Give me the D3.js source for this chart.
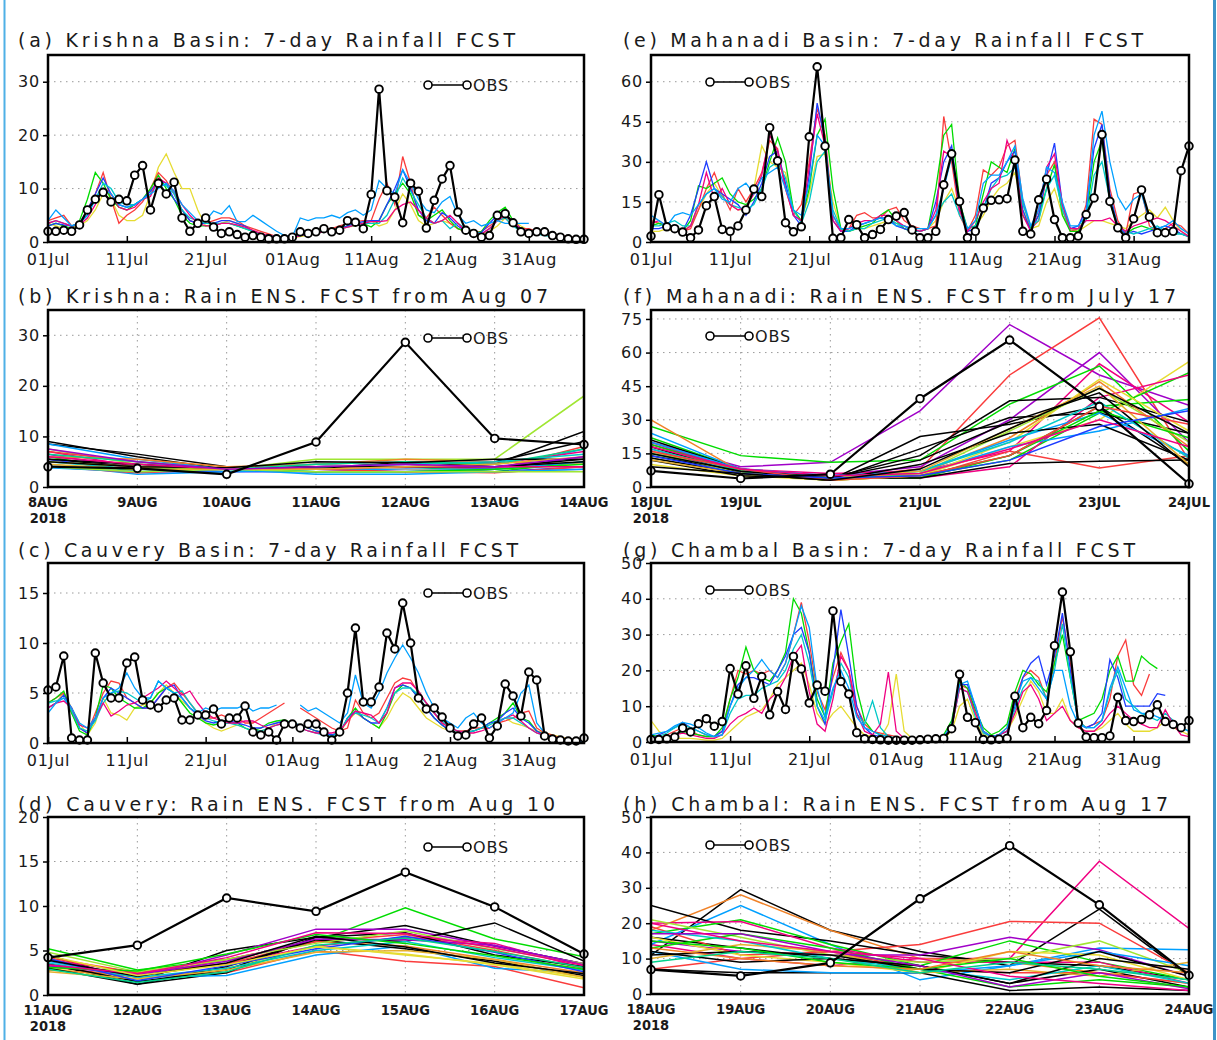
<!DOCTYPE html>
<html>
<head>
<meta charset="utf-8">
<script src="https://cdn.jsdelivr.net/npm/d3@7"></script>
<style>
  body { margin: 0; background: #fff; }
  .ttl { font-family: "DejaVu Sans", sans-serif; font-size: 19px; fill: #1a1a1a; }
  .tk { font-family: "DejaVu Sans", sans-serif; font-size: 16px; fill: #1a1a1a; letter-spacing: 0.8px; }
  .ens { font-family: "Liberation Sans Narrow", "DejaVu Sans Condensed", sans-serif; font-weight: bold; font-size: 14.5px; fill: #1a1a1a; }
</style>
</head>
<body>
<script>

var width = 1217, height = 1040;

// daily series 01Jul - 07Sep 2018
var tsFirstDay = "2018-07-01", tsLastDay = "2018-09-07";
var tsTickDays = ["2018-07-01", "2018-07-11", "2018-07-21", "2018-08-01", "2018-08-11", "2018-08-21", "2018-08-31"];

var krishnaObs = [2, 2, 2.2, 2, 3.2, 6, 8, 9.3, 7.5, 8,
  7.7, 12.5, 14.3, 6, 11, 9, 11.2, 4.5, 2, 3.5,
  4.5, 2.8, 1.6, 1.9, 1.4, 0.9, 1.2, 0.9, 0.6, 0.6,
  0.6, 0.9, 1.9, 1.6, 1.9, 2.5, 1.9, 2.2, 4, 3.7,
  2.5, 8.9, 28.6, 9.6, 8.4, 3.6, 11, 9.5, 2.6, 7.8,
  11.8, 14.3, 5.6, 2.2, 1.6, 0.9, 1.2, 5, 5.3, 3.6,
  1.9, 1.6, 1.9, 1.9, 1.2, 0.9, 0.6, 0.5, 0.5];

// forecast lines: yellow, red, green, blue, cyan, magenta, light blue
var krishnaFcst = [
  [3.5, 3, 2.5, 2.5, 3, 4, 6, 9, 8, 5, 4, 4, 5, 9, 14, 16.5, 13, 10, 10, 6, 3, 3, 3.5, 4, 3.5, 3, 2, 1.5, 1.2, 1,
   0.8, 0.8, 1, 1.3, 1.6, 2, 2.2, 2.4, 2.8, 3, 3.5, 4, 3, 3.5, 6, 9, 7, 4, 3, 3.5, 4, 3.5, 2.5, 2, 1.5, 1.5, 2, 3, 4.5, 4,
   3, 2.2, 1.8, 1.5, 1.2, 1, 0.8, 0.6, 0.5],
  [4, 4.5, 5, 3, 3.5, 6, 9, 13, 8, 3.5, 5, 6, 7.5, 10, 13, 11.5, 9, 6, 4, 3.5, 3.5, 4, 4.5, 4.5, 4, 3, 2.5, 2, 1.5, 1,
   0.8, 1, 1.5, 2, 2.2, 2.5, 2.5, 3, 3.5, 3.8, 4, 4, 8, 11, 7, 16, 11, 5, 4.5, 6.5, 5, 3.5, 2.5, 2, 1.8, 2, 3, 4, 4.5, 3,
   2.5, 2.5, 2, 1.8, 1.5, 1.2, 1, 0.8, 0.6],
  [3, 3.5, 3, 2.5, 4, 8, 13, 11, 8, 6.5, 6, 7, 8, 10, 12.5, 10, 8, 5, 3.5, 3, 3, 3.2, 3.5, 3.5, 3, 2.5, 2, 1.5, 1.2, 1,
   0.8, 1, 1.2, 1.5, 1.8, 2, 2.2, 2.5, 3, 3.5, 3.5, 2.8, 4, 7, 9, 11, 9, 5, 4, 5, 6, 4, 2.5, 2, 1.5, 2, 4, 5.5, 6.5, 4,
   2.5, 2, 2, 1.5, 1.2, 1, 0.8, 0.6, 0.5],
  [3, 3.5, 3.2, 3, 3.5, 6, 9, 12, 9, 7, 6.5, 7, 8, 9.5, 11.5, 11, 8, 6, 4, 3.5, 3.5, 3.5, 4, 4, 3.5, 3, 2, 1.5, 1.2, 1,
   0.8, 0.9, 1.2, 1.5, 1.8, 2, 2.2, 2.5, 3, 3.5, 3.8, 4, 4, 7, 10, 13.5, 10, 6, 4, 3.5, 5.5, 4.5, 3, 2, 1.5, 1.8, 3.5, 5, 5, 3.5,
   2.5, 2, 1.8, 1.5, 1.2, 1, 0.8, 0.6, 0.5],
  [3.5, 4, 3.5, 3, 3.5, 5, 8, 11, 10, 7.5, 7, 7, 8, 9, 11, 10.5, 9, 6, 4.5, 4, 3.5, 3.5, 3.5, 3.5, 3, 2.5, 2, 1.5, 1.2, 1,
   0.8, 1, 1.2, 1.5, 1.8, 2, 2.2, 2.5, 2.8, 3.2, 3.5, 3.5, 3.5, 5, 8, 12, 9.5, 7, 4.5, 3.5, 4, 2.5, 3.5, 2.5, 2, 1.5, 2.5, 4, 4.5, 3,
   2, 1.8, 1.5, 1.2, 1, 0.8, 0.6, 0.5, 0.5],
  [3.5, 4, 3.5, 3, 3.2, 4.5, 7, 10, 9, 6.5, 6, 6.5, 8, 8.5, 12, 11, 9.5, 7, 5, 3.5, 3, 3, 3.5, 3.5, 3.2, 2.8, 2.2, 1.6, 1.2, 1,
   0.8, 0.8, 1.2, 1.5, 1.7, 1.9, 2.1, 2.4, 2.8, 3.2, 3.5, 3.8, 3.8, 4, 6, 7, 7.5, 6, 4.5, 3.5, 4, 5, 3.5, 2, 1.5, 1.5, 2.5, 4, 5, 4,
   2.5, 2, 2, 1.5, 1.2, 1, 0.8, 0.6, 0.5],
  [4, 6, 4.5, 3, 3.5, 5, 8, 10, 9, 7, 6.5, 7, 8, 9, 10, 11, 9.5, 7, 5.5, 4, 4, 5.8, 5.2, 6.8, 3.8, 3.8, 5, 4, 3, 2,
   1.2, 1, 4.5, 4, 4.5, 4.5, 5, 4.5, 5.5, 6, 5, 6, 11.5, 10, 9, 13.5, 11, 8, 6, 5.5, 7.5, 8.5, 5, 3.5, 4, 3, 3.5, 4, 3.5, 3.5,
   3.5, 3.5, null, null, null, null, null, null, null]
];

var mahanadiObs = [2.2, 17.7, 5.7, 5, 3.7, 1.6, 4.5, 13.6, 17, 4.7,
  4, 6, 12, 19.8, 17, 42.8, 30.4, 7.2, 3.8, 5.7,
  39.4, 65.6, 35.9, 1.4, 1.6, 8.4, 6.5, 1.6, 2.8, 4.7,
  8.4, 9.7, 11, 4.5, 1.6, 1.6, 4, 21.4, 33, 15.2,
  1.6, 4, 12.7, 15.6, 15.8, 16.2, 30.7, 4, 3, 15.8,
  23.5, 8.4, 1.6, 1.6, 2.2, 10.3, 16.5, 40.2, 15.2, 5.3,
  1.6, 8.7, 19.5, 9.4, 3.5, 3.5, 4, 26.7, 35.9];

var mahanadiFcst = [
  [4, 4, 5, 4, 4, 6, 12, 18, 22, 17, 14, 12, 12, 20, 36, 30, 28, 26, 12, 8, 18, 32, 33, 15, 5, 4, 5, 5, 6, 7,
   8, 7, 5, 4, 4, 5, 8, 15, 20, 12, 5, 6, 10, 16, 20, 22, 26, 12, 5, 6, 15, 20, 10, 5, 4, 6, 8, 8, 7, 6,
   5, 8, 10, 12, 9, 13, 8, 4, 2],
  [8, 7, 6, 5, 4, 5, 12, 20, 26, 18, 12, 20, 15, 20, 26, 38, 35, 20, 10, 14, 30, 50, 40, 10, 4, 5, 10, 11, 9, 9,
   12, 13, 8, 6, 5, 5, 6, 47, 30, 10, 4, 10, 27, 25, 28, 36, 38, 15, 5, 8, 25, 30, 12, 4, 5, 14, 46, 44, 20, 8,
   3, 18, 19, 6, 4, 5, 7, 6, 3],
  [6, 7, 6, 6, 4, 8, 21, 20, 22, 24, 18, 15, 14, 16, 20, 30, 39, 30, 12, 8, 20, 40, 46, 20, 5, 4, 5, 6, 7, 10,
   12, 8, 5, 4, 4, 5, 20, 40, 44, 15, 5, 6, 18, 30, 28, 26, 35, 10, 5, 10, 20, 29, 10, 4, 4, 10, 30, 38, 15, 5,
   3, 5, 6, 5, 4, 3, 4, 3, 2],
  [5, 5, 6, 5, 4, 10, 20, 30, 20, 18, 16, 14, 10, 15, 22, 32, 34, 22, 10, 6, 25, 52, 38, 8, 4, 4, 6, 7, 8, 9,
   9, 6, 5, 4, 4, 5, 15, 30, 36, 12, 4, 5, 12, 22, 24, 30, 34, 12, 4, 10, 25, 37, 14, 5, 6, 12, 35, 44, 18, 6,
   3, 4, 3, 4, 5, 6, 5, 3, 2],
  [6, 6, 7, 8, 6, 6, 14, 18, 20, 17, 14, 13, 12, 14, 20, 28, 30, 24, 12, 7, 15, 30, 34, 12, 5, 4, 5, 5, 7, 8,
   9, 7, 6, 4, 4, 5, 10, 15, 18, 10, 5, 6, 12, 20, 24, 25, 28, 14, 6, 8, 20, 25, 12, 5, 5, 8, 25, 30, 16, 6,
   4, 3, 4, 5, 6, 4, 3, 3, 2],
  [7, 8, 6, 5, 4, 6, 14, 26, 16, 20, 14, 12, 13, 18, 25, 40, 34, 20, 10, 8, 28, 48, 36, 8, 4, 5, 7, 8, 8, 10,
   10, 8, 6, 5, 4, 5, 12, 34, 32, 12, 4, 8, 15, 20, 22, 38, 30, 10, 4, 12, 28, 33, 14, 5, 5, 8, 8, 8, 9, 6,
   4, 6, 7, 8, 9, 8, 6, 4, 2],
  [10, 8, 6, 10, 11, 10, 14, 18, 20, 16, 15, 20, 22, 18, 24, 26, 28, 20, 12, 10, 22, 40, 36, 10, 5, 5, 6, 7, 8, 9,
   8, 6, 6, 5, 5, 5, 10, 20, 32, 14, 5, 8, 22, 25, 25, 30, 36, 16, 6, 12, 28, 26, 15, 6, 6, 10, 40, 49, 30, 17,
   12, 16, 18, 8, 5, 6, 8, 5, 3]
];

var cauveryObs = [5.3, 5.6, 8.7, 0.5, 0.3, 0.3, 9, 6, 4.5, 4.5,
  8, 8.6, 4.3, 3.8, 3.5, 4.3, 4.5, 2.3, 2.3, 2.8,
  2.8, 3.4, 1.9, 2.5, 2.5, 3.7, 1.1, 0.8, 1.1, 0.3,
  1.9, 1.9, 1.5, 1.9, 1.9, 1.1, 0.3, 1.1, 5, 11.5,
  4.1, 4.1, 5.6, 11, 9.4, 14, 10, 4.5, 3.4, 3.5,
  2.6, 1.5, 0.7, 0.8, 1.9, 2.5, 0.5, 1.7, 5.9, 4.7,
  2.7, 7.1, 6.3, 0.7, 0.4, 0.3, 0.2, 0.2, 0.5];

var cauveryFcst = [
  [3.5, 4, 5, 3.5, 2, 0.8, 2, 4.5, 3, 2.8, 2.3, 3.5, 3.8, 4, 5, 5.8, 5, 4.2, 3.5, 2.8, 2, 1.5, 1.2, 1.5, 1.8, 1.5, 1.2, 1.2, 1.5, 2,
   2.2, 2, 1.8, 1.5, 1.2, 1, 0.8, 1, 2.2, 3, 2.5, 2, 1.5, 2.5, 4, 5, 4.5, 3.5, 2.5, 2, 1.5, 1.2, 1, 1, 1.2, 1.5, 1.8, 2.2, 2.5, 2,
   1.8, 1.5, 1.2, 1, 0.8, 0.6, 0.4, 0.3, 0.2],
  [4, 4.5, 5, 3, 1.5, 1, 3, 5, 6.2, 6, 4.5, 4, 3.5, 3.5, 4.5, 5.5, 6, 5, 4, 3, 2.5, 2.5, 2.8, 2.5, 2.5, 2, 2, 2.5, 3, 3.5,
   4, null, 3.5, 3, 2.5, 2, 1.5, 1.2, 1.5, 4.3, 3, 2.5, 3, 4.5, 6, 6.5, 6.3, 5, 4, 3, 2, 1.5, 1.2, 1.2, 1.5, 1.5, 1.5, 2, 2.2, 2.5,
   3, 3.2, 1.5, 1, 0.8, 0.5, 0.4, 0.3, 0.3],
  [4, 4.5, 5.2, 3, 1.2, 0.8, 2.5, 5.8, 5.5, 4.5, 4, 3.5, 3.5, 4, 5, 5.5, 5, 4, 3, 2.5, 2, 1.8, 2, 2, 2, 1.5, 1.2, 1.5, 2, 2.2,
   2.3, 2, 1.8, 1.5, 1.2, 1, 0.8, 1, 2.5, 3.5, 2.5, 2, 1.5, 3, 5, 5.8, 5.5, 4.5, 3.5, 2.5, 1.8, 1.2, 1, 1, 1.2, 1.5, 2, 2.5, 3, 4,
   2.5, 2.2, 1.2, 0.8, 0.5, 0.4, 0.3, 0.2, 0.2],
  [3.5, 4, 4.8, 3.5, 1.5, 1, 2.5, 4.5, 5.5, 5, 4.5, 4, 3.5, 3.5, 4.5, 5.5, 5.8, 4.5, 3.5, 2.8, 2.2, 2, 2.2, 2.2, 2, 1.8, 1.5, 1.5, 1.8, 2,
   2.2, 2, 1.8, 1.5, 1.2, 1, 0.8, 1, 2.5, 3.2, 2.5, 2, 2, 3.5, 5.5, 5.8, 5.5, 4.5, 3.5, 2.5, 1.8, 1.2, 1, 1, 1.2, 1.5, 2, 2.2, 3, 3.5,
   2.5, 2, 1.2, 0.8, 0.5, 0.4, 0.3, 0.2, 0.2],
  [4, 4.2, 4.5, 3.2, 1.5, 1.2, 2.2, 4, 5, 5.2, 5, 4.5, 4, 4.5, 6.2, 5.5, 5, 5.2, 4, 3, 2.5, 2.2, 2, 2, 1.8, 1.5, 1.2, 1.2, 1.5, 1.8,
   2, 2, 1.5, 1.2, 1, 0.8, 0.7, 1, 2.5, 3, 2.8, 2.5, 2, 3.5, 5, 5.5, 5.5, 4.8, 4, 3, 2.2, 1.5, 1.2, 1, 1.2, 1.5, 1.8, 2.2, 2.5, 2.5,
   2, 1.5, 1, 0.7, 0.5, 0.4, 0.3, 0.2, 0.2],
  [3.5, 4, 4.2, 3.5, 1.8, 1.5, 2.5, 4, 2.7, 3.2, 3.8, 4, 4.5, 5, 5.5, 6.2, 5.5, 4.8, 5.2, 4, 3, 2.5, 2.2, 2, 2, 2.2, 2.2, 1.8, 1.5, 1.8,
   2, 2, 1.5, 1.2, 1, 1, 1, 1.2, 2.2, 3.2, 3, 2.8, 2, 3, 5.5, 6, 6, 5.2, 4, 3, 2, 1.5, 1.2, 1, 1, 1.2, 1.5, 2, 2.5, 2.8,
   2.2, 1.5, 1, 0.8, 0.5, 0.4, 0.3, 0.2, 0.2],
  [3, 4, 4.5, 3.5, 2, 1.5, 2.5, 4.5, 5, 5.5, 7, 5.5, 4.5, 4.5, 6.2, 5.5, 5, 4.5, 3.5, 3, 3.5, 3.2, 3.5, 3.5, 3.5, 3.8, 3.2, 3.5, 3.5, 3.8,
   null, null, 3.8, 3.2, 3.5, 3, 2.5, 2, 3, 6.8, 4, 3.5, 5, 7, 8.5, 9.8, 8.5, 7, 5, 3.5, 2.5, 2, 1.5, 2.5, 3, 2, 1.5, 2, 2.5, 3,
   5, 5.8, 2, 1, 0.6, 0.4, 0.3, 0.2, 0.2]
];

var chambalObs = [0.7, 0.7, 0.9, 1.4, 3.9, 2.8, 5.1, 6.5, 4.4, 5.7,
  20.5, 13.4, 21.3, 12.2, 18.3, 7.6, 14.1, 9.1, 23.9, 20.4,
  10.9, 15.9, 14.2, 36.6, 16.9, 13.4, 2.6, 0.9, 0.7, 0.6,
  0.5, 0.5, 0.5, 0.5, 0.6, 0.8, 0.9, 1, 3.7, 18.9,
  6.9, 5.4, 0.7, 0.6, 0.8, 1, 12.8, 4, 6.9, 5.1,
  8.8, 26.9, 41.9, 25.2, 5.3, 1.4, 1.2, 1.2, 1.7, 12.5,
  6, 5.7, 6.3, 7.6, 10.4, 5.7, 4.9, 4, 6];

var chambalFcst = [
  [6, 3, 1.5, 1, 1, 1, 0.8, 0.5, 0.5, 1, 3, 5, 7, 8, 9, 12, 16, 18, 20, 22, 16, 8, 5, 8, 10, 7, 4, 2, 1.5, 1,
   5, 19, 3, 1, 0.6, 0.5, 0.5, 1, 3, 10, 12, 6, 2, 1.5, 2, 3, 7, 12, 17, 14, 8, 8, 12, 6, 4, 3, 3, 4, 6, 8,
   5, 3, 3, 3, 4, 6, 4, 3, 2],
  [1.5, 1, 2, 3, 4, 3, 2, 1.5, 1.5, 3, 12, 20, 19, 20, 19, 20, 18, 22, 30, 39, 28, 14, 9, 18, 25, 20, 10, 5, 3, 2.5,
   2, 1.5, 1, 0.8, 0.6, 0.5, 0.5, 1.5, 5, 16, 15, 8, 3, 1.5, 2, 4, 12, 18, 20, 18, 12, 22, 35, 22, 6, 4, 5, 6, 12, 24,
   28.5, 16, 13, 19, null, null, null, null, null],
  [2, 1.5, 1, 2, 3, 2.5, 2, 1.5, 1.5, 4, 12, 18, 26.5, 20, 18, 17, 20, 25, 40, 36, 25, 12, 7, 22, 28, 33, 15, 6, 3, 2,
   1.5, 1, 0.8, 0.6, 0.5, 0.5, 0.8, 2, 6, 17, 15, 9, 4, 2, 3, 5, 14, 20, 19, 16, 14, 22, 30, 18, 6, 7, 8, 12, 20, 24,
   17, 17, 24, 22, 20.5, null, null, null, null],
  [1, 2, 3, 4, 5.5, 4, 3, 2, 1.5, 3, 10, 16, 18, 18, 17, 16, 20, 24, 30, 32, 25, 10, 5, 20, 37, 24, 10, 4, 2, 1.5,
   1, 0.8, 0.6, 0.5, 0.5, 0.5, 0.6, 1.5, 4, 16, 16, 10, 3, 1.5, 2, 3, 10, 18, 22, 24, 16, 24, 36, 20, 5, 4, 5, 8, 23, 18,
   10, 10, 10, 10, 13.5, 13, null, null, null],
  [1, 1.5, 2.5, 4, 5, 4, 3, 2, 1.5, 2, 8, 12, 13, 13, 15, 16, 17, 20, 26, 30, 22, 10, 6, 14, 22, 18, 8, 5, 11.5, 4,
   1.5, 1, 0.8, 0.6, 0.5, 0.5, 0.5, 1.5, 4, 15, 14, 7, 2.5, 1.5, 2, 3, 9, 15, 18, 17, 12, 20, 33, 18, 6, 4, 4, 6, 14, 20,
   12, 10, 8, 7, 6, 8, 6, 4, 3],
  [1, 1, 1.5, 2, 2.5, 2, 1.5, 1, 1, 2, 5, 7, 8, 9.5, 8, 12, 14, 18, 24, 27, 14, 5, 3, 12, 24, 20, 8, 3, 2, 5,
   19.5, 3, 1, 0.6, 0.5, 0.5, 0.5, 1.5, 4, 15, 14, 8, 3, 1.5, 2, 3, 8, 14, 16, 12, 6, 8, 10, 6, 4, 3, 3, 5, 8, 10,
   8, 6, 5, 4, 4, 9, 5, 2, 1.5],
  [2, 2.5, 3, 4.5, 5.5, 5, 4, 2.5, 1.5, 2, 10, 15, 18, 20, 23, 20, 18, 22, 30, 38, 32, 15, 7, 15, 20, 15, 7, 4, 3, 2,
   1.5, 1, 0.8, 0.6, 0.5, 0.5, 0.5, 1.5, 5, 16, 17, 10, 3, 1.5, 2, 4, 11, 17, 18, 15, 12, 20, 20, 10, 5, 4, 4, 6, 15, 21,
   15, 9, 8, 8, 7, 6, 5, 4, 3]
];

// ensemble forecasts (7 days each)
var krishnaEnsDays = ["2018-08-08", "2018-08-09", "2018-08-10", "2018-08-11", "2018-08-12", "2018-08-13", "2018-08-14"];
var krishnaEnsObs = [4, 3.7, 2.5, 8.9, 28.6, 9.6, 8.4];
var krishnaEns = [
  [9, 6, 3.5, 3.5, 4, 4.5, 11], [8.5, 6.5, 4, 4, 4.5, 5, 9], [8.5, 5.5, 3.5, 3, 3, 3.5, 7.5],
  [7.5, 4.5, 3.5, 5.5, 5.5, 5.5, 18], [7, 4, 3.5, 4.5, 5, 4.5, 7], [7, 5, 3.5, 3.5, 4, 3.5, 8],
  [6.5, 3.5, 3.5, 4, 4.5, 3.5, 6], [6, 3, 3.5, 4, 4, 3, 5], [6, 5.5, 4, 4.5, 5.5, 5, 4.5],
  [5.5, 4, 3.5, 3.5, 5, 4, 5.5], [5.5, 3, 3, 3, 3.5, 3, 4], [5, 3.5, 3.5, 4, 4.5, 5, 6.5],
  [5, 4, 3.5, 3.5, 4, 4, 4], [4.5, 2.5, 3, 3.5, 3.5, 3.5, 5], [4.5, 3, 3.5, 4.5, 3.5, 3, 3.5],
  [4, 3.5, 3.5, 3, 3, 3.5, 4.5], [4, 2.8, 3.5, 3.5, 3, 2.8, 4], [3.8, 3, 3.5, 2.5, 2.5, 3, 3.5],
  [5.5, 4.5, 3.5, 4, 4, 4, 5], [6.5, 5, 3.5, 4.5, 5, 4.5, 7.5], [4, 3, 3.5, 3, 3, 3, 3],
  [5, 4, 3.8, 5, 4.8, 5.5, 5.5], [6, 4.5, 3.5, 3.5, 4, 4, 4], [4.5, 3.5, 3.5, 3.5, 4, 4.5, 6],
  [7.5, 5, 3.5, 4, 4.5, 4, 6]
];

var mahanadiEnsDays = ["2018-07-18", "2018-07-19", "2018-07-20", "2018-07-21", "2018-07-22", "2018-07-23", "2018-07-24"];
var mahanadiEnsObs = [7.2, 3.8, 5.7, 39.4, 65.6, 35.9, 1.4];
var mahanadiEns = [
  [20, 9, 11, 34, 72.5, 50, 36.5], [18, 7, 4, 8, 50, 75.5, 12], [17, 6, 5, 9, 30, 60, 20],
  [19, 8, 6, 7, 16, 55, 29], [27, 14, 11, 12, 37, 54, 16], [16, 6, 4, 4, 16, 8.5, 14],
  [10, 5, 3, 5, 18, 30, 56], [15, 7, 3, 5, 12, 33, 51], [20, 7, 4, 4, 9, 40, 50],
  [22, 8, 4, 4, 14, 36, 39], [21, 8, 4, 14, 38.5, 40, 29], [18, 6, 3, 17, 31, 33, 24],
  [14, 7, 3, 22.5, 28, 36, 10], [12, 5, 4, 4, 10.5, 11.5, 12], [24, 8, 5, 6, 18, 25, 35],
  [30, 7, 4, 6, 22, 47, 18], [13, 6, 3, 5, 20, 48, 25], [16, 6, 3, 6, 25, 44, 20],
  [20, 8, 5, 7, 21, 33, 14], [13, 6, 3, 10, 24, 28, 12], [19, 7, 4, 5, 14, 34, 22],
  [17, 7, 4, 7, 20, 38, 13], [12, 6, 4, 7, 26, 45, 10], [15, 7, 4, 12, 29, 42, 9],
  [16, 8, 3, 5, 14, 36, 28], [14, 6, 4, 5, 12, 27, 34], [18, 8, 5, 6, 17, 30, 18],
  [9, 6, 3, 8, 26, 44, 24]
];

var cauveryEnsDays = ["2018-08-11", "2018-08-12", "2018-08-13", "2018-08-14", "2018-08-15", "2018-08-16", "2018-08-17"];
var cauveryEnsObs = [4.2, 5.6, 10.9, 9.4, 13.8, 9.9, 4.6];
var cauveryEns = [
  [5.2, 2.8, 4, 6, 9.8, 6.3, 4.3], [4.5, 1.5, 5, 6.5, 7.8, 5.5, 3.5], [4, 2, 4.5, 7.4, 7.4, 5.5, 3.5],
  [3.2, 2, 2.5, 5, 3.8, 3.2, 0.8], [3.5, 1.2, 2.5, 6.5, 6, 8.1, 3.8], [3.8, 2, 2.2, 4.5, 5.5, 3, 2.5],
  [4, 2.5, 3.5, 5.5, 6.5, 5.8, 3], [3, 1.8, 3, 5.5, 4.5, 3.5, 2], [2.8, 2.2, 4, 6, 5.5, 4, 2.5],
  [4.2, 2.5, 3.5, 6, 6.8, 5, 3], [3.5, 1.5, 2.8, 6.5, 7, 4.5, 3.2], [3, 1.2, 3.2, 6.2, 5.2, 3.8, 2.2],
  [4.8, 2.6, 4, 5.8, 7.2, 5.2, 3.5], [3.6, 2, 3, 5, 6, 4.2, 2.8], [2.6, 1.8, 2.8, 4.8, 5, 4, 2],
  [3.3, 2.3, 3.8, 6.3, 6.2, 5.6, 3.4], [4.1, 1.6, 3.3, 5.2, 6.6, 4.8, 2.6], [3.1, 2.7, 4.6, 6.8, 5.8, 4.4, 2.9],
  [3.9, 2.1, 3.6, 6.6, 5.4, 3.6, 2.4], [2.9, 1.4, 2.6, 5.6, 6.4, 4.9, 3.1], [3.4, 2.4, 4.2, 7, 6.9, 5.3, 3.3],
  [4.4, 2.2, 3.4, 5.4, 4.6, 3.4, 1.8]
];

var chambalEnsDays = ["2018-08-18", "2018-08-19", "2018-08-20", "2018-08-21", "2018-08-22", "2018-08-23", "2018-08-24"];
var chambalEnsObs = [6.9, 5.1, 8.8, 26.9, 41.9, 25.2, 5.3];
var chambalEns = [
  [14, 10, 8, 10, 10, 37.5, 18.5], [11, 29.5, 18, 12, 8, 24, 5], [18, 28, 18, 10, 9, 6, 3],
  [14, 25, 14, 4, 8, 13, 12.5], [7, 10, 12, 14, 20.5, 20, 6], [25, 18, 15, 11, 9, 8, 4],
  [17, 21, 14, 8, 15, 9, 4], [20, 20.5, 13, 9, 9, 9, 3], [15, 12, 11, 11, 16, 12.5, 5],
  [21, 16, 11, 9, 10, 15, 6], [7, 6, 6, 6, 1, 2, 1], [12, 7, 6, 6, 8, 12, 8],
  [16, 13, 10, 8, 3, 7, 2], [19, 11, 12, 7, 6, 6, 3], [13, 17, 13, 7, 2, 4, 2],
  [16, 11, 9, 6, 12, 11, 4], [10, 14, 12, 6, 7, 5, 9], [18, 15, 10, 7, 4, 8, 3],
  [12, 9, 10, 8, 3, 10, 7], [17, 17, 12, 8, 2, 6, 1.5], [11, 12, 11, 7, 6, 12, 5],
  [15, 13, 9, 7, 10, 5, 2], [20, 15, 12, 10, 5, 3, 1], [13, 10, 8, 7, 12, 8, 6],
  [9, 12, 10, 6, 9, 7, 4]
];

// GrADS default colour table
var grads = {c1: "#000000", c2: "#fa3c3c", c3: "#00dc00", c4: "#1e3cff", c5: "#00c8c8", c6: "#f00082",
  c7: "#e6dc32", c8: "#f08228", c9: "#a000c8", c10: "#a0e632", c11: "#00a0ff", c12: "#e6af2d",
  c13: "#00d28c", c14: "#8200dc", c15: "#aaaaaa"};
var fcstColors = ["c7", "c2", "c3", "c4", "c5", "c6", "c11"];
var krishnaEnsColors = ["c1","c1","c11","c10","c6","c2","c9","c3","c8","c1","c4","c5","c7","c11","c15","c3","c2","c11","c1","c13","c10","c1","c6","c12","c9"];
var mahanadiEnsColors = ["c9","c2","c9","c6","c3","c2","c7","c3","c6","c3","c1","c1","c1","c1","c11","c8","c7","c10","c11","c1","c3","c5","c12","c1","c2","c4","c6","c1"];
var cauveryEnsColors = ["c3","c1","c9","c2","c1","c11","c6","c7","c8","c2","c1","c1","c10","c5","c12","c9","c4","c3","c1","c13","c6","c7"];
var chambalEnsColors = ["c6","c1","c8","c11","c2","c1","c3","c6","c9","c10","c1","c11","c1","c2","c3","c7","c12","c5","c1","c9","c1","c3","c6","c8","c13"];

var parseDay = d3.utcParse("%Y-%m-%d");
var tsDays = d3.utcDay.range(parseDay(tsFirstDay), d3.utcDay.offset(parseDay(tsLastDay), 1));

var svg = d3.select("body").append("svg")
    .attr("width", width)
    .attr("height", height);

// thin blue page edges
svg.append("line").attr("x1", 4.5).attr("x2", 4.5).attr("y1", 0).attr("y2", height)
    .attr("stroke", "#4fb0e6").attr("stroke-width", 2);
svg.append("line").attr("x1", 1214.5).attr("x2", 1214.5).attr("y1", 0).attr("y2", height)
    .attr("stroke", "#3d94c8").attr("stroke-width", 3);

function panel(o) {
  var g = svg.append("g").attr("transform", "translate(" + o.x + "," + o.y + ")");
  g.append("clipPath").attr("id", "clip" + o.id)
    .append("rect").attr("width", o.w).attr("height", o.h);
  svg.append("text").attr("class", "ttl")
    .attr("x", o.tx).attr("y", o.ty)
    .attr("textLength", o.tlen).attr("lengthAdjust", "spacing")
    .text(o.title);
  return g;
}

function hGrid(g, y, ticks, w, top) {
  g.append("g").selectAll("line")
    .data(ticks.filter(function(v) { return v > 0 && v < top; }))
    .enter().append("line")
      .attr("x1", 0).attr("x2", w)
      .attr("y1", function(d) { return y(d); })
      .attr("y2", function(d) { return y(d); })
      .attr("stroke", "#9a9a9a").attr("stroke-dasharray", "1.5,4.5");
}

function yAxis(g, y, ticks) {
  var ax = g.append("g")
    .call(d3.axisLeft(y).tickValues(ticks).tickSize(5).tickPadding(3).tickFormat(d3.format("d")));
  ax.select(".domain").remove();
  ax.attr("font-family", null).attr("font-size", null);
  ax.selectAll("text").attr("class", "tk").attr("fill", null);
  ax.selectAll("line").attr("stroke", "#000").attr("stroke-width", 1.5);
}

function box(g, o) {
  g.append("rect").attr("width", o.w).attr("height", o.h)
    .attr("fill", "none").attr("stroke", "#000").attr("stroke-width", 2.5);
}

function legend(g, lx, ly) {
  g.append("line").attr("x1", lx).attr("x2", lx + 39).attr("y1", ly).attr("y2", ly)
    .attr("stroke", "#000").attr("stroke-width", 1.6);
  g.selectAll(".lgc").data([lx, lx + 39]).enter().append("circle")
    .attr("cx", function(d) { return d; }).attr("cy", ly).attr("r", 4)
    .attr("fill", "#fff").attr("stroke", "#000").attr("stroke-width", 1.6);
  g.append("text").attr("class", "tk").attr("x", lx + 45).attr("y", ly).attr("dy", "0.36em").text("OBS");
}

function obsMarks(g, plot, data, xs, y) {
  var line = d3.line().x(function(d, i) { return xs[i]; }).y(function(d) { return y(d); });
  plot.append("path").datum(data).attr("d", line)
    .attr("fill", "none").attr("stroke", "#000").attr("stroke-width", 2.2);
  g.append("g").selectAll("circle").data(data).enter().append("circle")
    .attr("cx", function(d, i) { return xs[i]; })
    .attr("cy", function(d) { return y(d); })
    .attr("r", 3.8).attr("fill", "#fff").attr("stroke", "#000").attr("stroke-width", 1.9);
}

function tsPanel(o) {
  var g = panel(o);
  var x = d3.scaleUtc().domain(d3.extent(tsDays)).range([0, o.w]);
  var y = d3.scaleLinear().domain([0, o.top]).range([o.h, 0]);
  hGrid(g, y, o.yticks, o.w, o.top);

  var plot = g.append("g").attr("clip-path", "url(#clip" + o.id + ")");
  var line = d3.line()
    .defined(function(d) { return d != null; })
    .x(function(d, i) { return x(tsDays[i]); })
    .y(function(d) { return y(d); });
  plot.selectAll(".fc").data(o.fcst).enter().append("path")
    .attr("d", line).attr("fill", "none")
    .attr("stroke", function(d, i) { return grads[fcstColors[i]]; })
    .attr("stroke-width", 1.3);

  obsMarks(g, plot, o.obs, tsDays.map(function(d) { return x(d); }), y);
  box(g, o);
  yAxis(g, y, o.yticks);

  var xa = g.append("g").attr("transform", "translate(0," + o.h + ")")
    .call(d3.axisBottom(x).tickValues(tsTickDays.map(parseDay))
      .tickFormat(d3.utcFormat("%d%b")).tickSize(-6).tickPadding(12));
  xa.select(".domain").remove();
  xa.attr("font-family", null).attr("font-size", null);
  xa.selectAll("text").attr("class", "tk").attr("fill", null);
  xa.selectAll("line").attr("stroke", "#000").attr("stroke-width", 1.5);

  legend(g, o.lx, o.ly);
}

function ensPanel(o) {
  var g = panel(o);
  var days = o.days.map(parseDay);
  var x = d3.scaleUtc().domain(d3.extent(days)).range([0, o.w]);
  var y = d3.scaleLinear().domain([0, o.top]).range([o.h, 0]);
  hGrid(g, y, o.yticks, o.w, o.top);
  g.append("g").selectAll("line").data(days.slice(1, -1)).enter().append("line")
    .attr("x1", function(d) { return x(d); }).attr("x2", function(d) { return x(d); })
    .attr("y1", 0).attr("y2", o.h)
    .attr("stroke", "#9a9a9a").attr("stroke-dasharray", "1.5,4.5");

  var plot = g.append("g").attr("clip-path", "url(#clip" + o.id + ")");
  var line = d3.line()
    .x(function(d, i) { return x(days[i]); })
    .y(function(d) { return y(d); });
  plot.selectAll(".mb").data(o.members).enter().append("path")
    .attr("d", line).attr("fill", "none")
    .attr("stroke", function(d, i) { return grads[o.colors[i]]; })
    .attr("stroke-width", 1.5);

  obsMarks(g, plot, o.obs, days.map(function(d) { return x(d); }), y);
  box(g, o);
  yAxis(g, y, o.yticks);

  var fmt = d3.utcFormat("%-d%b");
  g.append("g").selectAll("text").data(days).enter().append("text")
    .attr("class", "ens")
    .attr("x", function(d) { return x(d); })
    .attr("y", o.h + 20)
    .attr("text-anchor", "middle")
    .text(function(d) { return fmt(d).toUpperCase(); });
  g.append("text").attr("class", "ens")
    .attr("x", x(days[0])).attr("y", o.h + 36)
    .attr("text-anchor", "middle")
    .text(d3.utcFormat("%Y")(days[0]));

  legend(g, o.lx, o.ly);
}

var colL = 48, colR = 651, wL = 536, wR = 538;

tsPanel({id: "a", x: colL, y: 55, w: wL, h: 187, top: 35, yticks: [0, 10, 20, 30],
  obs: krishnaObs, fcst: krishnaFcst, lx: 380, ly: 30,
  title: "(a) Krishna Basin: 7-day Rainfall FCST", tx: 18, ty: 47, tlen: 497});
ensPanel({id: "b", x: colL, y: 310, w: wL, h: 177, top: 35, yticks: [0, 10, 20, 30],
  days: krishnaEnsDays, obs: krishnaEnsObs, members: krishnaEns, colors: krishnaEnsColors, lx: 380, ly: 28,
  title: "(b) Krishna: Rain ENS. FCST from Aug 07", tx: 18, ty: 303, tlen: 530});
tsPanel({id: "c", x: colL, y: 563, w: wL, h: 180, top: 18, yticks: [0, 5, 10, 15],
  obs: cauveryObs, fcst: cauveryFcst, lx: 380, ly: 30,
  title: "(c) Cauvery Basin: 7-day Rainfall FCST", tx: 18, ty: 557, tlen: 500});
ensPanel({id: "d", x: colL, y: 817, w: wL, h: 178, top: 20, yticks: [0, 5, 10, 15, 20],
  days: cauveryEnsDays, obs: cauveryEnsObs, members: cauveryEns, colors: cauveryEnsColors, lx: 380, ly: 30,
  title: "(d) Cauvery: Rain ENS. FCST from Aug 10", tx: 18, ty: 811, tlen: 537});

tsPanel({id: "e", x: colR, y: 55, w: wR, h: 187, top: 70, yticks: [0, 15, 30, 45, 60],
  obs: mahanadiObs, fcst: mahanadiFcst, lx: 59, ly: 27,
  title: "(e) Mahanadi Basin: 7-day Rainfall FCST", tx: 623, ty: 47, tlen: 520});
ensPanel({id: "f", x: colR, y: 310, w: wR, h: 177, top: 79, yticks: [0, 15, 30, 45, 60, 75],
  days: mahanadiEnsDays, obs: mahanadiEnsObs, members: mahanadiEns, colors: mahanadiEnsColors, lx: 59, ly: 26,
  title: "(f) Mahanadi: Rain ENS. FCST from July 17", tx: 623, ty: 303, tlen: 553});
tsPanel({id: "g", x: colR, y: 563, w: wR, h: 179, top: 50, yticks: [0, 10, 20, 30, 40, 50],
  obs: chambalObs, fcst: chambalFcst, lx: 59, ly: 27,
  title: "(g) Chambal Basin: 7-day Rainfall FCST", tx: 623, ty: 557, tlen: 512});
ensPanel({id: "h", x: colR, y: 817, w: wR, h: 177, top: 50, yticks: [0, 10, 20, 30, 40, 50],
  days: chambalEnsDays, obs: chambalEnsObs, members: chambalEns, colors: chambalEnsColors, lx: 59, ly: 28,
  title: "(h) Chambal: Rain ENS. FCST from Aug 17", tx: 623, ty: 811, tlen: 545});

</script>
</body>
</html>
